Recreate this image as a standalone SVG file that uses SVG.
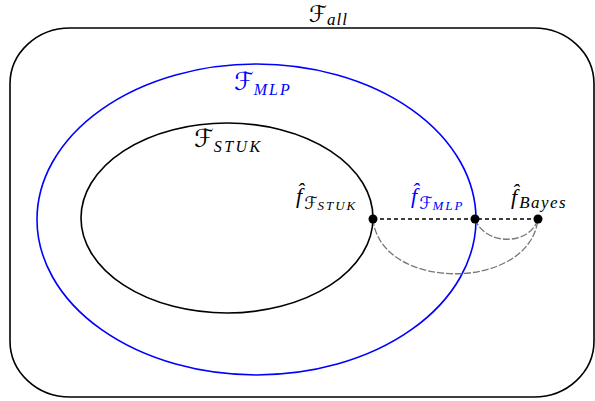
<svg xmlns="http://www.w3.org/2000/svg" width="595" height="401" viewBox="0 0 595 401">
<style>
.cal{font-family:"DejaVu Serif","DejaVu Sans",serif;font-style:italic;}
.it{font-family:"Liberation Serif",serif;font-style:italic;}
.blk{fill:#000}
.blu{fill:#0000ff}
</style>
<rect width="595" height="401" fill="#fff"/>
<g id="all">
<rect x="10" y="28" width="584" height="369" rx="60" ry="56" fill="none" stroke="#000" stroke-width="1.6"/>
<text x="309" y="22" class="blk"><tspan class="cal" font-size="23">ℱ</tspan><tspan class="it" font-size="17" dy="3" letter-spacing="1">all</tspan></text>
</g>
<g id="mlp">
<ellipse cx="256.5" cy="219.5" rx="219.5" ry="155.5" fill="none" stroke="#0000ff" stroke-width="1.6"/>
<text x="234" y="90" class="blu"><tspan class="cal" font-size="25">ℱ</tspan><tspan class="it" font-size="16" dy="5" letter-spacing="2">MLP</tspan></text>
</g>
<g id="stuk">
<ellipse cx="227" cy="218" rx="146" ry="95" fill="none" stroke="#000" stroke-width="1.6"/>
<text x="194" y="147" class="blk"><tspan class="cal" font-size="25">ℱ</tspan><tspan class="it" font-size="16" dy="5" letter-spacing="2.5">STUK</tspan></text>
</g>
<g id="connectors" fill="none">
<line x1="373" y1="219" x2="538" y2="219" stroke="#000" stroke-width="1.6" stroke-dasharray="4,3"/>
<path d="M373,219 C380,292 530,292 538,219" stroke="#777" stroke-width="1.3" stroke-dasharray="7,2"/>
<path d="M475,219 C485,246 530,246 538,219" stroke="#777" stroke-width="1.3" stroke-dasharray="7,2"/>
</g>
<g id="fstuk">
<circle cx="373" cy="219" r="4.5" fill="#000"/>
<text x="296" y="203" class="blk"><tspan class="it" font-size="22">f̂</tspan><tspan class="cal" font-size="17" dy="6" dx="2">ℱ</tspan><tspan class="it" font-size="13" dy="1" letter-spacing="2">STUK</tspan></text>
</g>
<g id="fmlp">
<circle cx="475" cy="219" r="4.5" fill="#000"/>
<text x="411" y="203" class="blu"><tspan class="it" font-size="22">f̂</tspan><tspan class="cal" font-size="17" dy="6" dx="2">ℱ</tspan><tspan class="it" font-size="13" dy="1" letter-spacing="2">MLP</tspan></text>
</g>
<g id="fbayes">
<circle cx="538" cy="219" r="4.5" fill="#000"/>
<text x="511" y="204" class="blk"><tspan class="it" font-size="22">f̂</tspan><tspan class="it" font-size="17" dy="4" dx="2" letter-spacing="1.5">Bayes</tspan></text>
</g>
</svg>
